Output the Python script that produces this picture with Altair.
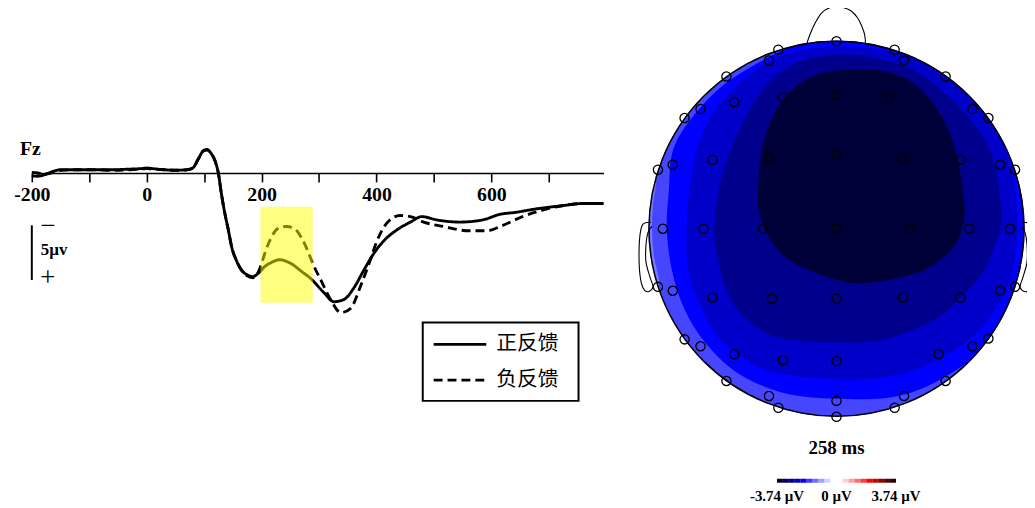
import altair as alt
import numpy as np
import pandas as pd

# ---------------- ERP waveform data (Fz) ----------------
t_pos = [-200, -190, -180, -170, -160, -150, -120, -90, -60, -30, -10,
         0, 10, 30, 50, 70, 80, 90, 98,
         105, 112, 119, 125, 130, 136, 142, 148, 156, 165, 174, 185, 194,
         205, 217, 231, 251, 269, 286,
         309, 326, 343, 361, 378, 395, 413, 436, 459, 479,
         505, 545, 585, 614, 643, 677, 723, 758, 795]
v_pos = [0.25, 0.3, 0.2, 0.0, -0.2, -0.3, -0.3, -0.3, -0.3, -0.35, -0.4,
         -0.45, -0.4, -0.3, -0.25, -0.3, -0.45, -1.3, -2.0,
         -2.15, -1.8, -1.1, 0.1, 1.9, 3.7, 5.2, 6.8, 8.0, 8.9, 9.3, 9.5, 9.2,
         8.6, 8.2, 7.95, 8.3, 9.0, 9.7,
         11.0, 11.8, 11.6, 10.5, 8.9, 7.4, 6.2, 5.2, 4.5, 4.0,
         4.3, 4.5, 4.3, 3.8, 3.6, 3.3, 3.0, 2.8, 2.8]

t_neg = [-200, -190, -180, -170, -160, -150, -120, -90, -60, -30, -10,
         0, 10, 30, 50, 70, 80, 90, 98,
         105, 112, 119, 125, 130, 136, 142, 148, 156, 165, 174, 185, 194,
         200, 206, 217, 228, 243, 257, 269, 280, 289,
         303, 320, 338, 355, 372, 387, 401, 418, 441, 459, 482,
         516, 562, 591, 620, 654, 689, 723, 758, 795]
v_neg = [-0.05, 0.0, 0.1, 0.05, -0.1, -0.25, -0.3, -0.3, -0.25, -0.3, -0.35,
         -0.4, -0.35, -0.3, -0.25, -0.3, -0.45, -1.3, -2.0,
         -2.1, -1.8, -1.1, 0.1, 1.9, 3.7, 5.2, 6.8, 8.0, 8.9, 9.4, 9.6, 9.1,
         8.3, 7.3, 5.9, 5.1, 4.9, 5.1, 5.9, 7.1, 8.3,
         9.8, 11.6, 12.8, 12.4, 10.4, 8.3, 6.2, 4.6, 3.9, 4.0, 4.5,
         4.9, 5.3, 5.3, 4.8, 4.0, 3.4, 3.0, 2.8, 2.8]

cond_names = ["正反馈", "负反馈"]
hl_t = [198, 289]          # highlighted time window (ms)
hl_v = [3.1, 11.9]         # highlighted amplitude span (µV)
x_ticks = [-200, -100, 0, 100, 200, 300, 400, 500, 600, 700]
scalebar_t = [-200]
scalebar_v = [4.8, 9.8]

# ---------------- Topographic map data (head coordinates, radius = 1) ----------------
elec_x = [0.0, -0.31, 0.31, -0.36, 0.36, -0.587, 0.582, -0.545, -0.286, 0.0, 0.28,
          -0.725, 0.725, -0.81, 0.81, -0.661, -0.36, 0.0, 0.354, 0.661,
          -0.873, 0.873, -0.952, 0.952,
          -0.926, -0.709, -0.392, 0.0, 0.392, 0.709, 0.926,
          -0.952, -0.873, -0.661, -0.344, 0.0, 0.354, 0.661, 0.873, 0.952,
          -0.81, -0.725, -0.545, -0.286, 0.0, 0.545, 0.725, 0.81,
          -0.587, 0.582, -0.36, 0.36, -0.31, 0.31, 0.0, 0.0]
elec_y = [1.0, 0.955, 0.955, 0.897, 0.897, 0.812, 0.812, 0.675, 0.701, 0.712, 0.701,
          0.638, 0.638, 0.59, 0.59, 0.368, 0.373, 0.394, 0.373, 0.368,
          0.341, 0.341, 0.315, 0.315,
          0.0, 0.0, 0.0, 0.0, 0.0, 0.0, 0.0,
          -0.31, -0.331, -0.368, -0.373, -0.373, -0.368, -0.368, -0.331, -0.31,
          -0.59, -0.627, -0.669, -0.701, -0.706, -0.669, -0.627, -0.585,
          -0.812, -0.812, -0.892, -0.892, -0.955, -0.955, -0.918, -1.003]

# contour band outlines (each region drawn over the previous one)
band_E_x = [-1.011, -0.963, -0.979, -0.984, -0.974, -0.947, -1.021, -1.058]
band_E_y = [0.257, 0.257, 0.124, 0.003, -0.140, -0.299, -0.299, 0.003]
band_D_x = [0.0, 0.566, 0.937, 1.053, 0.979, 0.778, 0.540, 0.302, 0.0, -0.280, -0.519,
            -0.693, -0.810, -0.878, -0.905, -0.894, -0.873, -0.772, -0.598, -0.386, -0.201]
band_D_y = [1.019, 0.918, 0.574, 0.003, -0.378, -0.643, -0.812, -0.897, -0.907, -0.876, -0.775,
            -0.616, -0.431, -0.220, 0.003, 0.204, 0.415, 0.590, 0.770, 0.902, 0.987]
band_C_x = [0.0, 0.233, 0.423, 0.619, 0.778, 0.884, 0.947, 0.963, 0.937, 0.847, 0.709, 0.513, 0.302,
            0.0, -0.333, -0.508, -0.651, -0.741, -0.794, -0.799, -0.783, -0.741, -0.661, -0.545,
            -0.402, -0.228]
band_C_y = [0.971, 0.955, 0.902, 0.786, 0.627, 0.452, 0.241, 0.003, -0.235, -0.431, -0.590, -0.712,
            -0.786, -0.802, -0.765, -0.680, -0.553, -0.378, -0.204, 0.003, 0.220, 0.431, 0.611,
            0.749, 0.865, 0.944]
band_B_x = [0.074, 0.249, 0.423, 0.566, 0.688, 0.794, 0.847, 0.873, 0.873, 0.794, 0.688, 0.550, 0.370,
            0.196, 0.0, -0.159, -0.333, -0.476, -0.561, -0.624, -0.651, -0.624, -0.561, -0.476,
            -0.370, -0.228, -0.085]
band_B_y = [0.929, 0.902, 0.839, 0.733, 0.611, 0.468, 0.325, 0.151, 0.003, -0.204, -0.341, -0.468,
            -0.553, -0.601, -0.606, -0.601, -0.574, -0.484, -0.378, -0.204, 0.003, 0.220, 0.431,
            0.611, 0.770, 0.876, 0.918]
band_A_x = [0.127, 0.302, 0.444, 0.566, 0.635, 0.672, 0.683, 0.646, 0.566, 0.444, 0.249, 0.074,
            -0.138, -0.280, -0.370, -0.413, -0.418, -0.397, -0.333, -0.228, -0.085]
band_A_y = [0.849, 0.828, 0.749, 0.590, 0.415, 0.220, 0.071, -0.061, -0.156, -0.230, -0.278, -0.288,
            -0.225, -0.146, -0.029, 0.098, 0.220, 0.431, 0.611, 0.749, 0.828]

nose_x = [-0.159, -0.140, -0.115, -0.080, -0.040, 0.0, 0.040, 0.080, 0.112, 0.135, 0.150, 0.155]
nose_y = [0.985, 1.040, 1.095, 1.150, 1.177, 1.183, 1.178, 1.160, 1.125, 1.080, 1.035, 0.985]
ear_x = [-0.989, -1.032, -1.048, -1.053, -1.048, -1.032, -1.005, -0.979, -0.995, -1.016, -1.016, -1.005, -0.984]
ear_y = [0.034, 0.024, -0.034, -0.140, -0.246, -0.315, -0.336, -0.310, -0.257, -0.177, -0.087, -0.019, 0.013]

topo_title = "258 ms"
cb_limit = 3.74
cb_colors = ["#000030", "#000060", "#000090", "#0000C8", "#0000FF", "#3C3CFF", "#6E6EFF",
             "#A0A0FF", "#D2D2FF", "#FFFFFF", "#FFFFFF", "#FFD2D2", "#FFA0A0", "#FF6E6E",
             "#FF3C3C", "#FF0000", "#C80000", "#900000", "#600000", "#300000"]
cb_ticks = [-3.74, 0.0, 3.74]
cb_labels = ["-3.74 µV", "0 µV", "3.74 µV"]

band_colors = {"E": "#7878FF", "D": "#0000FF", "C": "#0000C8", "B": "#00008C", "A": "#000038"}
head_color = "#4646FF"

# ---------------- layout ----------------
W, H = 1027, 500
Y0 = 164.3   # chart-pixel row of 0 µV
ERP_X = alt.Scale(domain=[-200, 795], range=[24.0, 600.1], nice=False, zero=False)
ERP_Y = alt.Scale(domain=[-5, 15], range=[109.3, 329.3], nice=False, zero=False)
R_PX = 189.0
HCX, HCY = 835.0, 220.5
HX = alt.Scale(domain=[-1, 1], range=[HCX - R_PX, HCX + R_PX], nice=False, zero=False)
HY = alt.Scale(domain=[-1, 1], range=[HCY + R_PX, HCY - R_PX], nice=False, zero=False)
CB = alt.Scale(domain=[-cb_limit, cb_limit], range=[775, 895], nice=False, zero=False)
SERIF = "Liberation Serif"
CJK = "Noto Sans CJK SC"


def sym_size(diameter):
    # Vega symbol size is the area of the symbol's bounding square
    return float(diameter ** 2)


layers = []

# --- ERP lines with axis ---
erp_df = pd.concat([
    pd.DataFrame({"t": t_pos, "v": v_pos, "cond": cond_names[0]}),
    pd.DataFrame({"t": t_neg, "v": v_neg, "cond": cond_names[1]}),
])
layers.append(
    alt.Chart(erp_df).mark_line(interpolate="monotone", strokeWidth=2.9, color="black").encode(
        x=alt.X("t:Q", scale=ERP_X, axis=alt.Axis(
            values=x_ticks, orient="bottom", offset=Y0 - H, grid=False, title=None,
            domainColor="black", domainWidth=1.6, tickColor="black", tickWidth=1.6, tickSize=9,
            labelFont=SERIF, labelFontSize=20, labelFontWeight="bold", labelColor="black",
            labelPadding=3, labelFlush=False, labelOverlap=False,
            labelExpr="datum.value % 200 == 0 ? '' + datum.value : ''")),
        y=alt.Y("v:Q", scale=ERP_Y, axis=None),
        strokeDash=alt.StrokeDash("cond:N", scale=alt.Scale(domain=cond_names, range=[[1, 0], [9, 5]]), legend=None),
        detail="cond:N",
    )
)

# --- highlight window ---
hl_df = pd.DataFrame({"t0": [hl_t[0]], "t1": [hl_t[1]], "v0": [hl_v[0]], "v1": [hl_v[1]]})
layers.append(
    alt.Chart(hl_df).mark_rect(color="#FFFF00", opacity=0.5).encode(
        x=alt.X("t0:Q", scale=ERP_X, axis=None), x2="t1:Q",
        y=alt.Y("v0:Q", scale=ERP_Y, axis=None), y2="v1:Q",
    )
)

# --- scale bar ---
sb_df = pd.DataFrame({"t": scalebar_t, "v0": [scalebar_v[0]], "v1": [scalebar_v[1]]})
layers.append(
    alt.Chart(sb_df).mark_rule(color="black", strokeWidth=2).encode(
        x=alt.X("t:Q", scale=ERP_X, axis=None),
        y=alt.Y("v0:Q", scale=ERP_Y, axis=None), y2="v1:Q",
    )
)
for s, py in [("−", 218), ("+", 270)]:
    layers.append(
        alt.Chart(pd.DataFrame({"s": [s]})).mark_text(font=SERIF, fontSize=27, color="black",
                                                        baseline="middle", align="center").encode(
            text="s:N", x=alt.value(40), y=alt.value(py))
    )
layers.append(
    alt.Chart(pd.DataFrame({"s": ["5µv"]})).mark_text(font=SERIF, fontSize=17, fontWeight="bold",
                                                       color="black", baseline="middle", align="left").encode(
        text="s:N", x=alt.value(33), y=alt.value(242))
)
layers.append(
    alt.Chart(pd.DataFrame({"s": ["Fz"]})).mark_text(font=SERIF, fontSize=20, fontWeight="bold",
                                                      color="black", baseline="alphabetic", align="left").encode(
        text="s:N", x=alt.value(12), y=alt.value(146))
)

# --- legend ---
layers.append(
    alt.Chart(pd.DataFrame({"a": [0]})).mark_rect(filled=False, color="black", strokeWidth=2).encode(
        x=alt.value(418), x2=alt.value(575), y=alt.value(315), y2=alt.value(394))
)
for name, dash, py in [(cond_names[0], [1, 0], 337), (cond_names[1], [9, 5], 373)]:
    layers.append(
        alt.Chart(pd.DataFrame({"a": [0]})).mark_rule(color="black", strokeWidth=2.8, strokeDash=dash).encode(
            x=alt.value(429), x2=alt.value(482), y=alt.value(py))
    )
    layers.append(
        alt.Chart(pd.DataFrame({"s": [name]})).mark_text(font=CJK, fontSize=21, color="black",
                                                          baseline="middle", align="left").encode(
            text="s:N", x=alt.value(492), y=alt.value(py))
    )

# --- topographic map ---
center_df = pd.DataFrame({"x": [0.0], "y": [0.0]})


def enc_xy(ch):
    return ch.encode(x=alt.X("x:Q", scale=HX, axis=None), y=alt.Y("y:Q", scale=HY, axis=None))


layers.append(enc_xy(alt.Chart(center_df).mark_point(
    shape="circle", filled=True, size=sym_size(2 * (R_PX + 0.5)), color=head_color, opacity=1)))

for key, xs, ys in [("E", band_E_x, band_E_y), ("D", band_D_x, band_D_y), ("C", band_C_x, band_C_y),
                    ("B", band_B_x, band_B_y), ("A", band_A_x, band_A_y)]:
    assert len(xs) == len(ys)
    df = pd.DataFrame({"x": xs, "y": ys, "i": list(range(len(xs)))})
    layers.append(
        alt.Chart(df).mark_line(interpolate="cardinal-closed", filled=True, color=band_colors[key]).encode(
            x=alt.X("x:Q", scale=HX, axis=None), y=alt.Y("y:Q", scale=HY, axis=None), order="i:Q")
    )

# white ring masking anything outside the scalp
layers.append(enc_xy(alt.Chart(center_df).mark_point(
    shape="circle", filled=False, size=sym_size(2 * (R_PX + 15.6)), color="white",
    strokeWidth=30, opacity=1)))
# head outline
layers.append(enc_xy(alt.Chart(center_df).mark_point(
    shape="circle", filled=False, size=sym_size(2 * R_PX), color="black",
    strokeWidth=1.5, opacity=1)))

for xs, ys in [(nose_x, nose_y), (ear_x, ear_y), ([-v for v in ear_x], ear_y)]:
    df = pd.DataFrame({"x": xs, "y": ys, "i": list(range(len(xs)))})
    layers.append(
        alt.Chart(df).mark_line(interpolate="cardinal", color="black", strokeWidth=1.1).encode(
            x=alt.X("x:Q", scale=HX, axis=None), y=alt.Y("y:Q", scale=HY, axis=None), order="i:Q")
    )

assert len(elec_x) == len(elec_y)
layers.append(enc_xy(alt.Chart(pd.DataFrame({"x": elec_x, "y": elec_y})).mark_point(
    shape="circle", filled=False, size=sym_size(9.3), color="black", strokeWidth=1.3, opacity=1)))

layers.append(
    alt.Chart(pd.DataFrame({"x": [0.0], "y": [-1.172], "s": [topo_title]})).mark_text(
        font=SERIF, fontSize=19, fontWeight="bold", color="black", baseline="middle", align="center").encode(
        x=alt.X("x:Q", scale=HX, axis=None), y=alt.Y("y:Q", scale=HY, axis=None), text="s:N")
)

# colour bar
edges = np.linspace(-cb_limit, cb_limit, len(cb_colors) + 1)
cb_df = pd.DataFrame({"lo": edges[:-1], "hi": edges[1:], "c": cb_colors})
layers.append(
    alt.Chart(cb_df).mark_rect().encode(
        x=alt.X("lo:Q", scale=CB, axis=None), x2="hi:Q",
        y=alt.value(472.5), y2=alt.value(476.5),
        color=alt.Color("c:N", scale=None, legend=None))
)
layers.append(
    alt.Chart(pd.DataFrame({"v": cb_ticks, "s": cb_labels})).mark_text(
        font=SERIF, fontSize=15, fontWeight="bold", color="black", baseline="middle", align="center").encode(
        x=alt.X("v:Q", scale=CB, axis=None), y=alt.value(490), text="s:N")
)

chart = alt.layer(*layers).resolve_scale(
    x="independent", y="independent", color="independent", strokeDash="independent"
).properties(
    width=W, height=H, padding=0, autosize=alt.AutoSizeParams(type="none"), background="white"
).configure_view(stroke=None)

chart.save("out.html", embed_options={"renderer": "svg", "actions": False})
